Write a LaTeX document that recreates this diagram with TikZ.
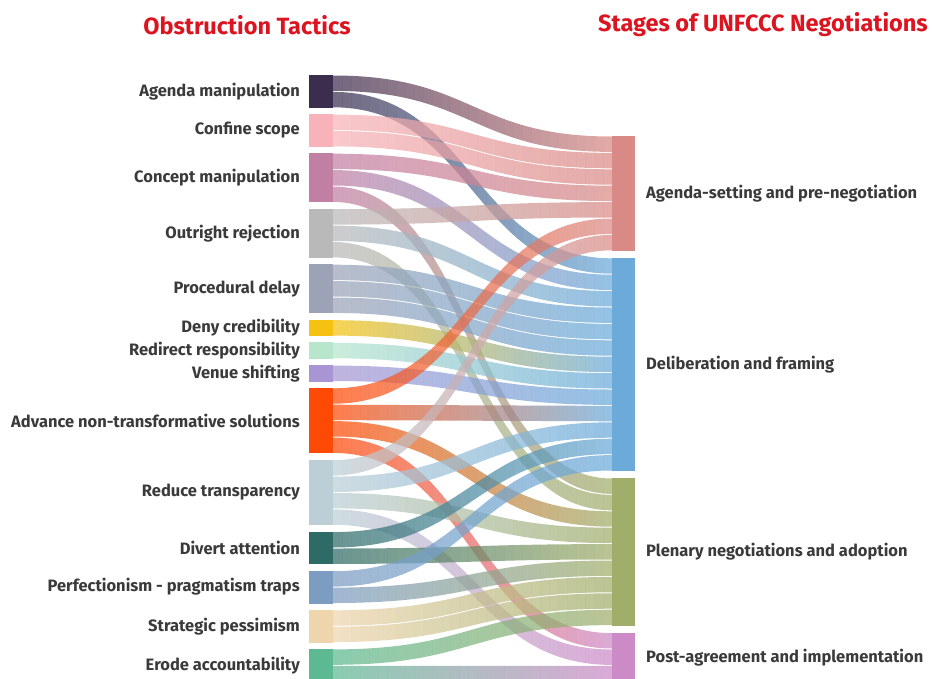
\documentclass[tikz,border=0pt]{standalone}
\usepackage{fontspec}
\setmainfont{Fira Sans}

\definecolor{colAM}{HTML}{3B2D4E}
\definecolor{colCS}{HTML}{F7B3B9}
\definecolor{colCM}{HTML}{C27FA4}
\definecolor{colOR}{HTML}{B9B9B9}
\definecolor{colPD}{HTML}{9CA3B7}
\definecolor{colDC}{HTML}{F5C211}
\definecolor{colRR}{HTML}{B8E6CC}
\definecolor{colVS}{HTML}{A896D4}
\definecolor{colANS}{HTML}{FF4A06}
\definecolor{colRT}{HTML}{BCCFD6}
\definecolor{colDA}{HTML}{2E6A66}
\definecolor{colPPT}{HTML}{7D9CC2}
\definecolor{colSP}{HTML}{EED5AE}
\definecolor{colEA}{HTML}{5DB991}
\definecolor{colAS}{HTML}{D98A86}
\definecolor{colDF}{HTML}{6BAAD9}
\definecolor{colPN}{HTML}{A0AD6B}
\definecolor{colPA}{HTML}{CC8AC6}
\definecolor{txtgrey}{HTML}{3A3A3A}
\definecolor{titlered}{HTML}{DC1420}

\tikzset{
  bar/.style={inner sep=0pt, outer sep=0pt, draw=none},
  lbl/.style={text=txtgrey, font=\fontsize{16.5}{19}\selectfont\bfseries, inner sep=0pt},
  title/.style={text=titlered, font=\fontsize{23.5}{27}\selectfont\bfseries},
  flow/.style={fill opacity=0.72}
}

\begin{document}
\begin{tikzpicture}[x=1pt, y=-1pt]
  \useasboundingbox (0,0) rectangle (932,678);

  \node[title] (ttl) at (247,25) {Obstruction Tactics};
  \node[title] (ttr) at (763,25) {Stages of UNFCCC Negotiations};

  % tactics
  \foreach \n/\u/\k/\txt [count=\i from 0] in {
      AM/2/0/Agenda manipulation, CS/2/2/Confine scope,
      CM/3/4/Concept manipulation, OR/3/7/Outright rejection,
      PD/3/10/Procedural delay, DC/1/13/Deny credibility,
      RR/1/14/Redirect responsibility, VS/1/15/Venue shifting,
      ANS/4/16/Advance non-transformative solutions,
      RT/4/20/Reduce transparency, DA/2/24/Divert attention,
      PPT/2/26/Perfectionism - pragmatism traps,
      SP/2/28/Strategic pessimism, EA/2/30/Erode accountability}
    \node[bar, fill=col\n, anchor=north west, minimum width=24pt,
          minimum height=\u*16.4pt,
          label={[lbl, label distance=9pt]west:\txt}]
      (\n) at (309, 75+\i*6.3+\k*16.4) {};

  % stages
  \foreach \n/\u/\k/\txt [count=\i from 0] in {
      AS/7/0/Agenda-setting and pre-negotiation,
      DF/13/7/Deliberation and framing,
      PN/9/20/Plenary negotiations and adoption,
      PA/3/29/Post-agreement and implementation}
    \node[bar, fill=col\n, anchor=north west, minimum width=23pt,
          minimum height=\u*16.4pt,
          label={[lbl, label distance=11pt]east:\txt}]
      (\n) at (612, 136+\i*7+\k*16.4) {};

  % flows, coloured strip by strip from tactic to stage
  \foreach \s/\ls/\t/\rs in {
      AM/0/AS/0, AM/1/DF/0, CS/0/AS/1, CS/1/AS/2,
      CM/0/AS/3, CM/1/DF/1, CM/2/PN/0,
      OR/0/AS/4, OR/1/DF/2, OR/2/PN/1,
      PD/0/DF/3, PD/1/DF/4, PD/2/DF/5,
      DC/0/DF/6, RR/0/DF/7, VS/0/DF/8,
      ANS/0/AS/5, ANS/1/DF/9, ANS/2/PN/2, ANS/3/PA/0,
      RT/0/AS/6, RT/1/DF/10, RT/2/PN/3, RT/3/PA/1,
      DA/0/DF/11, DA/1/PN/4, PPT/0/DF/12, PPT/1/PN/5,
      SP/0/PN/6, SP/1/PN/7, EA/0/PN/8, EA/1/PA/2}
  {
    \path (\s.north east) ++(0,\ls*16.4+0.5) coordinate (a1) ++(0,15.4) coordinate (a2);
    \path (\t.north west) ++(0,\rs*16.4+0.5) coordinate (b1) ++(0,15.4) coordinate (b2);
    \foreach \j in {0,...,30} {
      \pgfmathtruncatemacro\pct{100-(\j+0.5)*100/31}
      \begin{scope}
        \clip (333+\j*9,0) rectangle (342+\j*9,700);
        \fill[flow, fill=col\s!\pct!col\t]
          (a1) .. controls +(139.5,0) and +(-139.5,0) .. (b1) -- (b2)
          .. controls +(-139.5,0) and +(139.5,0) .. (a2) -- cycle;
      \end{scope}
    }
  }
\end{tikzpicture}
\end{document}
